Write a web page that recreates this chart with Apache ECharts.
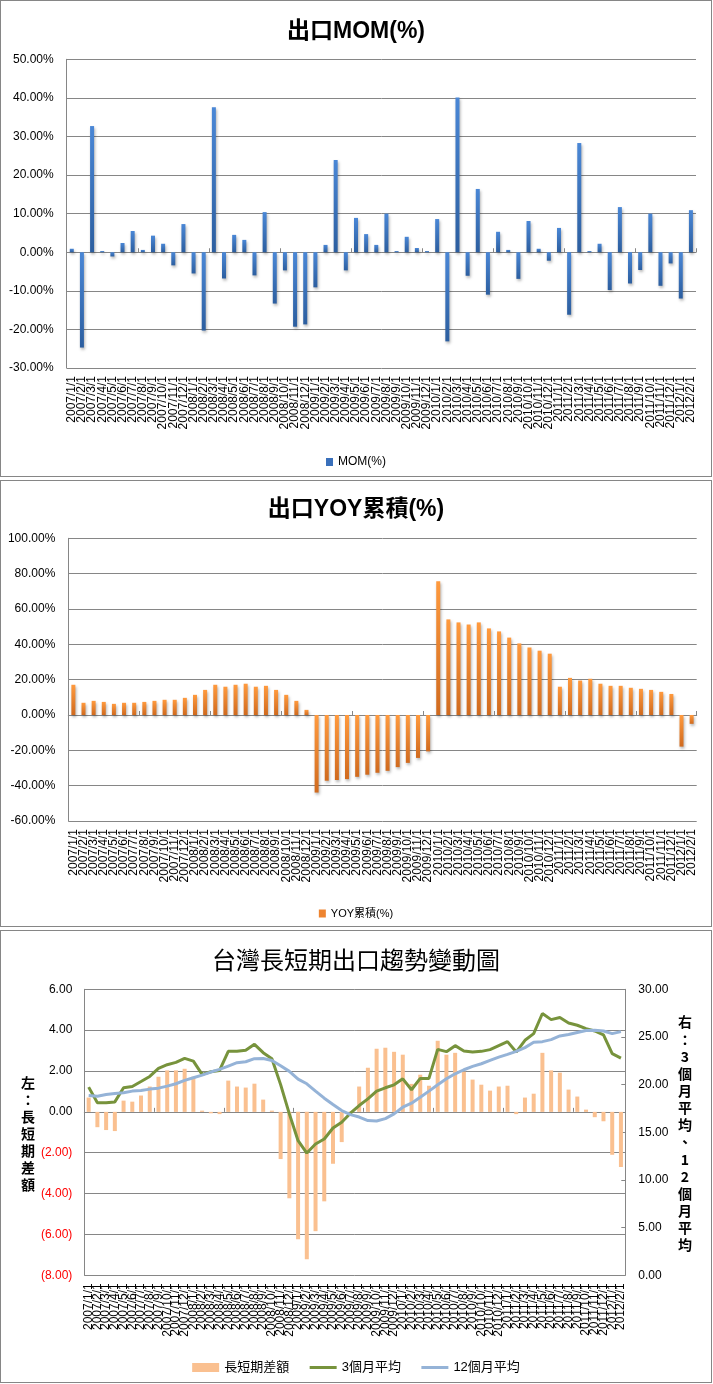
<!DOCTYPE html>
<html><head><meta charset="utf-8">
<script src="https://cdn.jsdelivr.net/npm/echarts/dist/echarts.min.js"></script>
<style>
body{margin:0;background:#fff;}
.p{position:absolute;left:0;width:710px;border:1px solid #868686;background:#fff;}
</style></head><body>
<div id="c1" class="p" style="top:0;height:475px"></div>
<div id="c2" class="p" style="top:480px;height:445px"></div>
<div id="c3" class="p" style="top:930px;height:451px"></div>
<script>
const categories = ['2007/1/1','2007/2/1','2007/3/1','2007/4/1','2007/5/1','2007/6/1','2007/7/1','2007/8/1','2007/9/1','2007/10/1','2007/11/1','2007/12/1',
'2008/1/1','2008/2/1','2008/3/1','2008/4/1','2008/5/1','2008/6/1','2008/7/1','2008/8/1','2008/9/1','2008/10/1','2008/11/1','2008/12/1',
'2009/1/1','2009/2/1','2009/3/1','2009/4/1','2009/5/1','2009/6/1','2009/7/1','2009/8/1','2009/9/1','2009/10/1','2009/11/1','2009/12/1',
'2010/1/1','2010/2/1','2010/3/1','2010/4/1','2010/5/1','2010/6/1','2010/7/1','2010/8/1','2010/9/1','2010/10/1','2010/11/1','2010/12/1',
'2011/1/1','2011/2/1','2011/3/1','2011/4/1','2011/5/1','2011/6/1','2011/7/1','2011/8/1','2011/9/1','2011/10/1','2011/11/1','2011/12/1',
'2012/1/1','2012/2/1'];

const momValues = [0.9,-24.7,32.7,0.3,-1.1,2.4,5.5,0.6,4.3,2.2,-3.4,7.3,
-5.5,-20.3,37.6,-6.8,4.5,3.2,-6.0,10.4,-13.3,-4.7,-19.3,-18.7,
-9.1,1.9,23.9,-4.7,8.9,4.7,1.9,10.0,0.3,4.0,1.1,0.3,
8.6,-23.1,40.1,-6.1,16.4,-11.0,5.3,0.6,-6.9,8.1,0.9,-2.2,
6.3,-16.2,28.3,0.3,2.2,-9.8,11.7,-8.1,-4.6,10.0,-8.7,-2.9,
-12.0,10.9];

const yoyValues = [17.1,6.9,8.0,7.4,6.3,6.9,6.9,7.4,8.0,8.6,8.6,9.7,
11.4,14.2,17.1,16.0,17.1,17.7,16.0,16.5,14.2,11.4,8.0,2.9,
-43.9,-37.2,-36.8,-36.3,-35.0,-33.8,-32.7,-31.6,-29.5,-27.1,-24.3,-20.6,
75.7,54.1,52.4,51.2,52.4,49.0,47.3,43.8,40.5,38.2,36.4,34.7,
16.0,21.0,19.5,20.5,17.7,16.5,16.5,15.4,14.8,14.2,13.1,11.9,
-17.9,-5.0];

const spreadValues = [0.70,-0.75,-0.89,-0.94,0.55,0.50,0.80,1.24,1.72,2.03,2.03,2.11,
1.72,0.06,-0.07,-0.11,1.53,1.24,1.19,1.38,0.60,0.06,-2.31,-4.23,
-6.24,-7.21,-5.84,-4.38,-2.54,-1.48,0.02,1.24,2.16,3.09,3.14,2.94,
2.80,1.37,1.82,1.28,3.48,2.80,2.89,1.97,1.58,1.33,1.04,1.24,
1.28,-0.11,0.70,0.89,2.89,2.03,1.92,1.09,0.75,0.11,-0.26,-0.46,
-2.10,-2.70];

const avg3Values = [19.74,18.09,18.09,18.19,19.67,19.81,20.33,20.86,21.70,22.09,22.33,22.75,
22.47,21.07,21.35,21.49,23.49,23.49,23.60,24.23,23.35,22.72,20.00,16.93,
14.12,12.82,13.77,14.30,15.45,16.05,17.00,17.81,18.51,19.32,19.67,19.98,
20.61,19.46,20.65,20.65,23.70,23.46,24.09,23.53,23.42,23.49,23.67,24.09,
24.51,23.42,24.65,25.35,27.46,26.82,27.04,26.47,26.23,25.88,25.63,25.21,
23.25,22.79];

const avg12Values = [18.86,18.79,18.96,19.07,19.14,19.32,19.39,19.53,19.63,19.84,20.09,20.44,
20.72,21.00,21.32,21.60,21.95,22.30,22.40,22.72,22.75,22.54,21.98,21.39,
20.58,20.09,19.32,18.58,17.91,17.28,16.86,16.60,16.23,16.19,16.44,16.93,
17.63,18.05,18.68,19.32,19.98,20.61,21.14,21.56,21.91,22.19,22.54,22.89,
23.18,23.49,23.88,24.44,24.51,24.72,25.11,25.25,25.46,25.67,25.70,25.63,
25.35,25.56];

const FONT = 'Liberation Sans, "Noto Sans CJK TC", sans-serif';
const GRID = '#868686';

function baseX(fs){
  return [
    {type:'category', data:categories, position:'bottom',
     axisLine:{onZero:true, lineStyle:{color:GRID}},
     axisTick:{show:true, inside:true, length:4, lineStyle:{color:GRID}},
     axisLabel:{show:false}, splitLine:{show:false}},
    {type:'category', data:categories, position:'bottom',
     axisLine:{show:false, onZero:false}, axisTick:{show:false}, splitLine:{show:false},
     axisLabel:{show:true, interval:0, rotate:90, fontSize:fs, margin:8, color:'#000', fontFamily:FONT}}
  ];
}

function pctAxis(min,max,step){
  return {type:'value', min:min, max:max, interval:step,
    axisLine:{show:true, lineStyle:{color:GRID}}, axisTick:{show:false},
    splitLine:{show:true, lineStyle:{color:GRID, width:1}},
    axisLabel:{formatter:v=>v.toFixed(2)+'%', fontSize:12, color:'#000', margin:13, fontFamily:FONT}};
}

// Chart 1
const c1 = echarts.init(document.getElementById('c1'), null, {renderer:'canvas'});
c1.setOption({
  animation:false,
  textStyle:{fontFamily:FONT},
  title:{text:'出口MOM(%)', left:'center', top:14, textStyle:{fontSize:23, fontWeight:'bold', color:'#000', fontFamily:FONT}},
  grid:{left:65.7, right:15, top:58.3, bottom:108, containLabel:false, outerBoundsMode:'none'},
  legend:{show:true, top:450, left:'center', itemWidth:7, itemHeight:8, itemGap:10,
    textStyle:{fontSize:12, color:'#000', fontFamily:FONT}, data:[{name:'MOM(%)', icon:'rect', itemStyle:{color:'#3a70bb'}}]},
  xAxis: baseX(12),
  yAxis: pctAxis(-30,50,10),
  series:[{type:'bar', name:'MOM(%)', data:momValues, barWidth:4,
    itemStyle:{color:new echarts.graphic.LinearGradient(0,0,0,1,[{offset:0,color:'#4a87d6'},{offset:1,color:'#2c5e9f'}]),
      shadowColor:'rgba(0,0,0,0.3)', shadowBlur:3, shadowOffsetX:1, shadowOffsetY:2}}]
});

// Chart 2
const c2 = echarts.init(document.getElementById('c2'), null, {renderer:'canvas'});
c2.setOption({
  animation:false,
  textStyle:{fontFamily:FONT},
  title:{text:'出口YOY累積(%)', left:'center', top:12, textStyle:{fontSize:23, fontWeight:'bold', color:'#000', fontFamily:FONT}},
  grid:{left:67.3, right:14.3, top:57.3, bottom:105, containLabel:false, outerBoundsMode:'none'},
  legend:{show:true, top:422, left:'center', itemWidth:7, itemHeight:8, itemGap:10,
    textStyle:{fontSize:11, color:'#000', fontFamily:FONT}, data:[{name:'YOY累積(%)', icon:'rect', itemStyle:{color:'#ee8430'}}]},
  xAxis: baseX(12),
  yAxis: pctAxis(-60,100,20),
  series:[{type:'bar', name:'YOY累積(%)', data:yoyValues, barWidth:4,
    itemStyle:{color:new echarts.graphic.LinearGradient(0,0,0,1,[{offset:0,color:'#ff9a3e'},{offset:1,color:'#d06a1e'}]),
      shadowColor:'rgba(0,0,0,0.3)', shadowBlur:3, shadowOffsetX:1, shadowOffsetY:2}}]
});

// Chart 3
const c3 = echarts.init(document.getElementById('c3'), null, {renderer:'canvas'});
const leftName = ['左','：','長','短','期','差','額'].join('\n');
const rightName = ['右','：','3','個','月','平','均','、','1','2','個','月','平','均'].join('\n');
c3.setOption({
  animation:false,
  textStyle:{fontFamily:FONT},
  title:{text:'台灣長短期出口趨勢變動圖', left:'center', top:14, textStyle:{fontSize:24, fontWeight:'normal', color:'#000', fontFamily:FONT}},
  grid:{left:83.3, right:85.7, top:58.3, bottom:106.7, containLabel:false, outerBoundsMode:'none'},
  legend:{show:true, top:425, left:'center', itemWidth:27, itemHeight:9, itemGap:19,
    textStyle:{fontSize:13, color:'#000', fontFamily:FONT},
    data:[{name:'長短期差額', icon:'rect'},
          {name:'3個月平均', itemStyle:{opacity:0}, lineStyle:{width:3, color:'#77933c'}},
          {name:'12個月平均', itemStyle:{opacity:0}, lineStyle:{width:3, color:'#95b3d7'}}]},
  xAxis: baseX(12),
  yAxis:[
    {type:'value', min:-8, max:6, interval:2, position:'left',
     axisLine:{show:true, lineStyle:{color:GRID}}, axisTick:{show:false},
     splitLine:{show:true, lineStyle:{color:GRID}},
     axisLabel:{margin:12, fontSize:12, fontFamily:FONT,
       formatter:v=> v<0 ? '{r|('+(-v).toFixed(2)+')}' : '{b|'+v.toFixed(2)+'}',
       rich:{r:{color:'#ff0000', fontSize:12, fontFamily:FONT}, b:{color:'#000', fontSize:12, fontFamily:FONT}}}},
    {type:'value', min:0, max:30, interval:5, position:'right',
     axisLine:{show:true, lineStyle:{color:GRID}},
     axisTick:{show:true, inside:true, length:4, lineStyle:{color:GRID}},
     splitLine:{show:false},
     axisLabel:{margin:13, fontSize:12, color:'#000', fontFamily:FONT, formatter:v=>v.toFixed(2)}}
  ],
  graphic:[
    {type:'text', x:27, y:143.5, style:{text:leftName, textAlign:'center', textVerticalAlign:'top',
      font:'bold 14px "Noto Sans CJK TC", sans-serif', lineHeight:17, fill:'#000'}},
    {type:'text', x:684, y:82.5, style:{text:rightName, textAlign:'center', textVerticalAlign:'top',
      font:'bold 14px "Noto Sans CJK TC", sans-serif', lineHeight:17.15, fill:'#000'}}
  ],
  series:[
    {type:'bar', name:'長短期差額', data:spreadValues, barWidth:4, yAxisIndex:0,
     itemStyle:{color:'#fac090'}, z:2},
    {type:'line', name:'3個月平均', data:avg3Values, yAxisIndex:1, symbol:'none', showSymbol:false,
     lineStyle:{color:'#77933c', width:3}, itemStyle:{color:'#77933c'}, z:3},
    {type:'line', name:'12個月平均', data:avg12Values, yAxisIndex:1, symbol:'none', showSymbol:false,
     lineStyle:{color:'#95b3d7', width:3}, itemStyle:{color:'#95b3d7'}, z:4}
  ]
});
</script>
</body></html>
